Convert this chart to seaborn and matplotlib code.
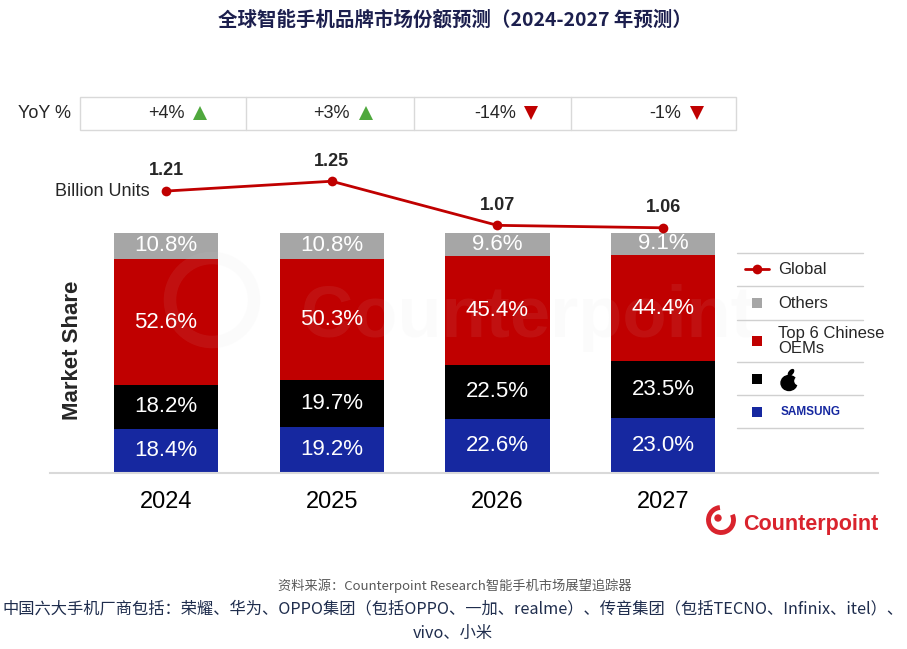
import numpy as np
import pandas as pd
import matplotlib
matplotlib.use('Agg')
import matplotlib.pyplot as plt
import matplotlib.transforms as mtransforms
from matplotlib.patches import Rectangle, Circle, Ellipse, Arc
import seaborn as sns

# ---------------- data ----------------
years = ['2024', '2025', '2026', '2027']
samsung = [18.4, 19.2, 22.6, 23.0]
apple = [18.2, 19.7, 22.5, 23.5]
chinese6 = [52.6, 50.3, 45.4, 44.4]
others = [10.8, 10.8, 9.6, 9.1]
units = [1.21, 1.25, 1.07, 1.06]
yoy = ['+4%', '+3%', '-14%', '-1%']

C_GREY = '#a6a6a6'
C_RED = '#c00000'
C_BLACK = '#000000'
C_BLUE = '#1628a0'
C_UP = '#4fa83d'

sns.set_style('white')
plt.rcParams['font.family'] = ['Liberation Sans', 'Noto Sans CJK SC', 'DejaVu Sans']
CJK = ['Noto Sans CJK SC', 'DejaVu Sans']

W, H = 907, 649
fig = plt.figure(figsize=(W / 100, H / 100), dpi=100)


def px(x0, y0, x1, y1):
    return [x0 / W, 1 - y1 / H, (x1 - x0) / W, (y1 - y0) / H]


# ---------------- stacked bars ----------------
ax = fig.add_axes(px(50, 140, 878, 473))
ax.patch.set_alpha(0)

df = pd.DataFrame({'year': years, 'samsung': samsung, 'apple': apple,
                   'chinese6': chinese6, 'others': others})
df['c1'] = df['samsung']
df['c2'] = df['c1'] + df['apple']
df['c3'] = df['c2'] + df['chinese6']
df['c4'] = df['c3'] + df['others']

for col, color in [('c4', C_GREY), ('c3', C_RED), ('c2', C_BLACK), ('c1', C_BLUE)]:
    sns.barplot(data=df, x='year', y=col, color=color, saturation=1,
                width=0.63, linewidth=0, ax=ax)

segs = [('samsung', None), ('apple', 'c1'), ('chinese6', 'c2'), ('others', 'c3')]
for name, base in segs:
    for i in range(len(years)):
        v = df[name].iloc[i]
        lo = 0 if base is None else df[base].iloc[i]
        ax.text(i, lo + v / 2, f'{v:.1f}%', ha='center', va='center',
                color='white', fontsize=16, zorder=5)

ax.set_ylim(0, (473 - 140) / 2.4)
ax.set_xlabel('')
ax.set_ylabel('')
ax.set_yticks([])
for s in ['top', 'right', 'left']:
    ax.spines[s].set_visible(False)
ax.spines['bottom'].set_color('#d9d9d9')
ax.spines['bottom'].set_linewidth(1.5)
ax.tick_params(axis='x', length=0, pad=13, labelsize=17, colors='black')

# ---------------- global units line ----------------
ax2 = ax.twinx()
sns.lineplot(x=np.arange(len(years)), y=units, ax=ax2, color=C_RED, lw=2,
             marker='o', markersize=7, markeredgewidth=0)
ax2.set_ylim((487.5 - 473) / 245, (487.5 - 140) / 245)
ax2.axis('off')
for i, v in enumerate(units):
    ax2.annotate(f'{v:.2f}', (i, v), xytext=(0, 14.5), textcoords='offset points',
                 ha='center', va='center', fontsize=13, fontweight='bold')
ax2.annotate('Billion Units', (0, units[0]), xytext=(-11.5, 0), textcoords='offset points',
             ha='right', va='center', fontsize=13)

span = 165.7
ax.set_xlim(-(166 - 50) / span, (878 - 166) / span)
ax2.set_xlim(ax.get_xlim())

# ---------------- overlay (pixel coords) ----------------
lax = fig.add_axes([0, 0, 1, 1], zorder=5)
lax.set_xlim(0, W)
lax.set_ylim(H, 0)
lax.axis('off')
lax.patch.set_alpha(0)

# faint watermark
lax.text(528, 318, 'Counterpoint', fontsize=52, fontweight='bold', color='#d8d8d8',
         alpha=0.08, ha='center', va='center', zorder=1)
lax.add_patch(Circle((212, 300), 42, fill=False, lw=9, ec='#d8d8d8', alpha=0.08))

# title
lax.text(455, 20, '全球智能手机品牌市场份额预测（2024-2027 年预测）', family=CJK,
         fontweight='bold', fontsize=14, color='#1c1f4e', ha='center', va='center')

# YoY table
lax.add_patch(Rectangle((80, 97), 736 - 80, 33, fill=False, ec='#d9d9d9', lw=1))
for xd in [246, 414, 571]:
    lax.plot([xd, xd], [97, 130], color='#d9d9d9', lw=1)
lax.text(18, 113, 'YoY %', ha='left', va='center', fontsize=13)
trans = mtransforms.blended_transform_factory(ax.transData, lax.transData)
for i, s in enumerate(yoy):
    lax.text(i + 0.11, 113, s, transform=trans, ha='right', va='center', fontsize=13)
    up = s.startswith('+')
    lax.plot(i + 0.205, 113, marker='^' if up else 'v', color=C_UP if up else C_RED,
             ms=10, mew=0, transform=trans)

# Market Share label
lax.text(73, 350, 'Market Share', rotation=90, ha='center', va='center',
         fontsize=16, fontweight='bold')

# legend
for yl in [253, 286, 320, 362, 395, 428]:
    lax.plot([737, 863], [yl, yl], color='#d0d0d0', lw=1)
lax.plot([745, 769], [269, 269], color=C_RED, lw=2)
lax.plot(757, 269, 'o', color=C_RED, ms=7, mew=0)
lax.text(778, 269, 'Global', ha='left', va='center', fontsize=12)
lax.plot(757, 303, 's', color=C_GREY, ms=7, mew=0)
lax.text(778, 303, 'Others', ha='left', va='center', fontsize=12)
lax.plot(757, 341, 's', color=C_RED, ms=7, mew=0)
lax.text(778, 341, 'Top 6 Chinese\nOEMs', ha='left', va='center', fontsize=12,
         linespacing=1.0)
lax.plot(757, 379, 's', color=C_BLACK, ms=7, mew=0)
lax.add_patch(Ellipse((789, 383), 16, 15, color='black'))
lax.add_patch(Circle((798.5, 381), 3.6, color='white'))
lax.add_patch(Ellipse((791, 372.5), 3.5, 7, angle=40, color='black'))
lax.plot(757, 412, 's', color=C_BLUE, ms=7, mew=0)
lax.text(781, 412, 'SAMSUNG', ha='left', va='center', fontsize=8.5,
         fontweight='bold', color=C_BLUE)

# Counterpoint logo
C_LOGO = '#d9232d'
lax.add_patch(Arc((721, 520), 25, 25, theta1=335, theta2=625, lw=3.5, color=C_LOGO))
lax.add_patch(Circle((718, 518), 3, color=C_LOGO))
lax.text(743, 530, 'Counterpoint', ha='left', va='baseline', fontsize=15.5,
         fontweight='bold', color=C_LOGO)

# footer
lax.text(455, 586, '资料来源：Counterpoint Research智能手机市场展望追踪器', family=CJK,
         fontsize=9.5, color='#595959', ha='center', va='center')
lax.text(453, 609, '中国六大手机厂商包括：荣耀、华为、OPPO集团（包括OPPO、一加、realme）、'
         '传音集团（包括TECNO、Infinix、itel）、', family=CJK,
         fontsize=11.7, color='#1f2d4d', ha='center', va='center')
lax.text(453, 633, 'vivo、小米', family=CJK, fontsize=11.7, color='#1f2d4d',
         ha='center', va='center')

fig.savefig('out.png', dpi=100)
